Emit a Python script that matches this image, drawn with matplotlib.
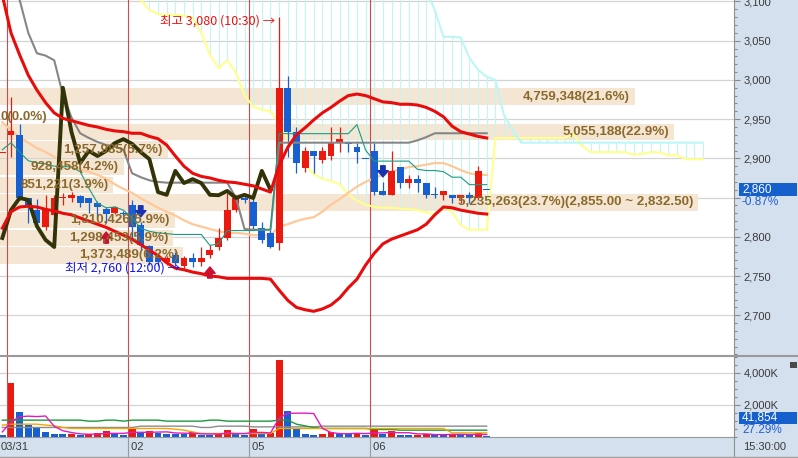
import numpy as np
import matplotlib
matplotlib.use("Agg")
import matplotlib.pyplot as plt
import matplotlib.transforms as mtransforms
from matplotlib.lines import Line2D
from matplotlib.patches import Rectangle
from matplotlib.ticker import FixedLocator, MultipleLocator, FuncFormatter

plt.rcParams['font.family'] = ['Liberation Sans', 'DejaVu Sans']
KR = ['Noto Sans CJK KR', 'DejaVu Sans']

# 30 minute candles, 14 per session (09:00 .. 15:30); bar -1 is the last bar of 03/30
bars = np.arange(-1, 56)
bars_per_day = 14
day_labels = ['03/31', '02', '05', '06']
day_first_bar = [0, 14, 28, 42]

opens = np.array([2907, 2930, 2930, 2849.5, 2834, 2812.5, 2827.5, 2849, 2849.5, 2852,
                  2849.5, 2843, 2835.5, 2830.5, 2830.5, 2840.5, 2815, 2788, 2773, 2768,
                  2776.5, 2762.5, 2773, 2768, 2776.5, 2787, 2798.5, 2834, 2849.5, 2844.5,
                  2811, 2805, 2792, 2990, 2933.5, 2887.5, 2909.5, 2898, 2903, 2919.5,
                  2919.5, 2914.5, 2899.5, 2909.5, 2858.5, 2853.5, 2889, 2868.5, 2873.5, 2868.5,
                  2853.5, 2853, 2853.5, 2849.5, 2853.5, 2849.5, 2860])
highs = np.array([2907, 2978, 2944, 2849.5, 2848, 2853, 2853, 2856, 2857, 2853.5,
                  2849.5, 2845.5, 2838, 2839, 2833, 2847, 2819, 2789.5, 2776.5, 2775.5,
                  2780.5, 2775.5, 2779, 2787, 2789.5, 2811, 2856, 2853.5, 2852, 2849.5,
                  2819, 2808.5, 3080, 3005, 2940, 2914.5, 2909.5, 2914.5, 2940, 2940,
                  2919.5, 2919.5, 2899.5, 2919.5, 2870, 2909.5, 2889, 2878.5, 2878.5, 2868.5,
                  2863.5, 2858.5, 2853.5, 2853.5, 2857, 2890, 2860])
lows = np.array([2907, 2902, 2847, 2817.5, 2815, 2808.5, 2826.5, 2840.5, 2844, 2838,
                 2830.5, 2825, 2817.5, 2829, 2826.5, 2796, 2783, 2764, 2762.5, 2764,
                 2762.5, 2760, 2761.5, 2762.5, 2773, 2783, 2796, 2831.5, 2843, 2810,
                 2792, 2785.5, 2783, 2901.5, 2881, 2882.5, 2881, 2894, 2898, 2908,
                 2908, 2894, 2899, 2853, 2853, 2853, 2862, 2862, 2857, 2849.5,
                 2849.5, 2847, 2843, 2843, 2843, 2847, 2860])
closes = np.array([2907, 2935, 2849.5, 2838, 2817.5, 2834, 2849.5, 2849.5, 2853.5, 2843,
                   2843, 2838, 2829, 2838, 2829, 2812.5, 2789.5, 2768, 2768, 2773,
                   2766.5, 2773, 2768, 2773, 2783, 2798.5, 2834, 2849.5, 2847, 2813.5,
                   2796, 2787, 2990, 2933.5, 2894, 2909.5, 2903, 2909.5, 2919.5, 2924.5,
                   2918.5, 2908, 2899, 2857, 2853.5, 2884, 2868.5, 2873.5, 2868.5, 2853.5,
                   2853, 2858.5, 2849.5, 2853.5, 2849.5, 2884, 2860])
volume_k = np.array([80, 3380, 1550, 710, 540, 270, 150, 140, 150, 110,
                     160, 210, 350, 170, 90, 500, 210, 350, 240, 160,
                     150, 140, 280, 120, 90, 140, 420, 160, 90, 460,
                     160, 250, 4815, 1600, 500, 180, 120, 180, 270, 160,
                     150, 250, 90, 460, 180, 330, 120, 90, 100, 180,
                     120, 90, 170, 120, 100, 190, 41.854])

bb_upper = [3108, 3060, 3032, 3006, 2987, 2971, 2958, 2951, 2948, 2945,
            2942, 2940, 2937, 2935, 2934, 2932, 2932, 2928, 2925, 2917,
            2903, 2890, 2881, 2877, 2875, 2872, 2870, 2869, 2867, 2865,
            2861, 2857, 2891, 2914, 2930, 2939, 2949, 2958, 2965, 2973,
            2980, 2982, 2980, 2976, 2972, 2971, 2969, 2969, 2968, 2965,
            2960, 2953, 2941, 2934, 2931, 2928, 2926]
bb_lower = [2811, 2832, 2838, 2839, 2838, 2835, 2833, 2830, 2828, 2824,
            2820, 2816, 2812, 2807, 2802, 2797, 2790, 2783, 2776, 2767,
            2760, 2758, 2755, 2753, 2750, 2749, 2747, 2747, 2747, 2747,
            2747, 2746, 2732, 2719, 2710, 2707, 2705, 2708, 2713, 2722,
            2735, 2746, 2764, 2779, 2791, 2797, 2801, 2805, 2809, 2816,
            2828, 2838, 2837, 2834, 2832, 2830, 2829]
tenkan = [2911, 2920, 2908, 2897, 2894, 2893, 2890, 2890, 2889, 2883,
          2862, 2843, 2837, 2838, 2834, 2824, 2811, 2807, 2805, 2804,
          2803, 2803, 2803, 2803, 2789, 2791, 2808, 2808, 2808, 2808,
          2809, 2809, 2931.5, 2931.5, 2931.5, 2931.5, 2931.5, 2931.5, 2931.5, 2931.5,
          2931.5, 2943, 2910.5, 2896.5, 2896.5, 2896.5, 2896.5, 2896.5, 2886, 2884.5,
          2884.5, 2883, 2876, 2876, 2866.5, 2866.5, 2866.5]
kijun = [3178, 3140, 3102, 3060, 3034, 3031, 3025, 2981, 2952, 2932,
         2926, 2921, 2917, 2915, 2911, 2881, 2876, 2872, 2870, 2869,
         2869, 2869, 2869, 2869, 2869, 2869, 2869, 2850, 2810, 2809,
         2809, 2809] + [2920] * 16 + [2923, 2927] + [2932] * 7
ma_line = [2946, 2936, 2927, 2920, 2913, 2908, 2902, 2895, 2890, 2886,
           2883, 2879, 2874, 2867, 2861, 2856, 2849, 2843, 2837, 2832,
           2827, 2821, 2816, 2813, 2810, 2807, 2805, 2805, 2804, 2802,
           2802, 2802, 2813, 2816, 2820, 2823, 2825, 2832, 2841, 2848,
           2856, 2864, 2870, 2875, 2879, 2883, 2886, 2889, 2890, 2892,
           2894, 2894, 2890, 2885, 2881, 2879, 2879]

# leading spans, drawn 25 bars ahead (out to bar 80)
span_bars = np.arange(-1, 81)
span_a = [np.nan] * 16 + [
    3102, 3089, 3084, 3083, 3083, 3082, 3079, 3060, 3032, 3015,
    3025, 3009, 2981, 2966, 2962, 2960, 2945, 2925, 2908, 2893,
    2880, 2874, 2871, 2867, 2854, 2846, 2841, 2838, 2837, 2837,
    2836, 2835, 2834, 2831, 2829, 2837, 2832, 2815, 2809, 2809,
    2809, 2926, 2926, 2926, 2926, 2926, 2926, 2926, 2926, 2926,
    2931, 2916, 2908, 2908, 2908, 2908, 2908, 2904.5, 2906, 2908,
    2907.5, 2904, 2904, 2899, 2899, 2899]
span_b = [np.nan] * 16 + [3115] * 34 + [
    3089, 3055, 3055, 3054, 3028, 3013, 3004, 3000, 2955, 2936] + [2920] * 22

vol_ma5 = [290, 920, 1240, 1280, 1252, 1290, 644, 362, 250, 164,
           142, 154, 196, 200, 196, 264, 264, 264, 278, 292,
           222, 208, 194, 170, 156, 154, 210, 186, 180, 254,
           258, 224, 1155, 1457, 1465, 1469, 1443, 516, 250, 182,
           176, 202, 184, 222, 226, 262, 236, 236, 164, 164,
           122, 116, 132, 136, 120, 134, 124]
vol_ma20 = [713] + [776] * 4 + [720, 669, 568] + [505] * 12 + [461, 398, 290] + [189] * 9 + [505] * 20 + [227] * 5
vol_ma60 = ([1029] * 10 + [965] * 2 + [1029] * 2 + [965] + [1029] * 4 + [965] * 5 + [1029] * 2 + [965] * 6
            + [1029] * 2 + [776, 669, 568] + [505] * 6 + [442] * 3 + [398] * 11)
vol_ma120 = [568] * 16 + [650] * 7 + [568] * 2 + [650] * 4 + [606] * 8 + [650] * 20

# volume by price, bins of 22.5
profile_low = [2765, 2787.5, 2810, 2832.5, 2855, 2877.5, 2900, 2922.5, 2945, 2967.5]
profile_vol = [1373489, 1298453, 1310426, 5235263, 851221, 928458, 1257985, 5055188, 0, 4759348]
profile_step = 22.5

buy_signals = [11, 23]
sell_signals = [15, 43]

change_text = '-0.87%'
vol_ratio_text = '27.29%'

RED = '#ea1a10'
BLUE = '#1660d2'
W, H = 798.0, 458.0

fig = plt.figure(figsize=(7.98, 4.58), dpi=100, facecolor='#d5e0ee')
ax = fig.add_axes([0, 103 / H, 734 / W, 355 / H])
axv = fig.add_axes([0, 21.5 / H, 734 / W, 79.5 / H], sharex=ax)

# ---- price panel
ax.set_xlim(-1.27, 83.59)
ymin, ymax = 2649.3, 3101.9
ax.set_ylim(ymin, ymax)

for b in day_first_bar:
    ax.axvline(b - 0.5, color='#cf4a4a', lw=0.8, zorder=1.8)
    axv.axvline(b - 0.5, color='#cf4a4a', lw=0.8, zorder=1.8)

# volume profile bands, drawn in axes-fraction x
blend = mtransforms.blended_transform_factory(ax.transAxes, ax.transData)
prof_vol = np.array(profile_vol)
prof_max = prof_vol.max() / 0.951
total = prof_vol.sum()
for lo, v in zip(profile_low, prof_vol):
    ax.add_patch(Rectangle((0, lo + 0.8), v / prof_max, profile_step - 1.6, transform=blend,
                           facecolor='#f5e6d3', edgecolor='none', zorder=1))
    label = f'{v:,}({v / total * 100:.1f}%)'
    if v == prof_vol.max():
        label += f'({lo + profile_step:,.2f} ~ {lo:,.2f})'
    if v > 0:
        ax.annotate(label, xy=(v / prof_max, lo + profile_step / 2), xycoords=blend,
                    xytext=(-3.6, 0), textcoords='offset points', ha='right', va='center',
                    fontsize=9.6, fontweight='bold', color='#8a6a2c', zorder=10)
    else:
        ax.annotate(label, xy=(0, lo + profile_step / 2), xycoords=blend,
                    xytext=(0.5, -2), textcoords='offset points', ha='left', va='center',
                    fontsize=9.6, fontweight='bold', color='#8a6a2c', zorder=10)

# cloud hatch + spans
sa = np.array(span_a, dtype=float)
sb = np.array(span_b, dtype=float)
ok = ~np.isnan(sa) & ~np.isnan(sb)
ax.vlines(span_bars[ok], np.minimum(sa, sb)[ok], np.maximum(sa, sb)[ok],
          colors='#c4f4f4', lw=0.8, zorder=1.3)
ax.plot(span_bars, sa, color='#ffff8c', lw=1.5, zorder=2)
ax.plot(span_bars, sb, color='#bdf6f6', lw=1.5, zorder=2)
ax.plot(bars, ma_line, color='#ffc898', lw=1.6, zorder=2.5)

# candles
prev = np.r_[closes[0], closes[:-1]]
up = (closes > opens) | ((closes == opens) & (closes >= prev))
ccol = np.where(up, RED, BLUE)
ax.vlines(bars, lows, highs, colors=ccol, lw=0.9, zorder=3)
ax.bar(bars, np.maximum(np.abs(closes - opens), 1.5), bottom=np.minimum(opens, closes),
       width=0.8, color=ccol, lw=0, zorder=3.2)

ax.plot(bars, kijun, color='#868686', lw=1.5, zorder=4)
ax.plot(bars, tenkan, color='#1b9c84', lw=0.8, zorder=4)
ax.plot(bars[25:] - 25, closes[25:], color='#333308', lw=2.8, zorder=4.2)
ax.plot(bars, bb_upper, color='#e80c0c', lw=2.2, zorder=4.5)
ax.plot(bars, bb_lower, color='#e80c0c', lw=2.2, zorder=4.5)

# signal arrows
arrow_style = 'simple,head_length=0.45,head_width=0.75,tail_width=0.32'
for b in sell_signals:
    tip = mtransforms.offset_copy(ax.transData, fig=fig, x=0, y=5, units='dots')
    ax.annotate('', xy=(b, highs[b + 1]), xycoords=tip, xytext=(0, 8), textcoords='offset points',
                arrowprops=dict(arrowstyle=arrow_style, fc='#1832b0', ec='#1832b0',
                                shrinkA=0, shrinkB=0), zorder=6)
for b in buy_signals:
    tip = mtransforms.offset_copy(ax.transData, fig=fig, x=0, y=-9, units='dots')
    ax.annotate('', xy=(b, lows[b + 1]), xycoords=tip, xytext=(0, -8), textcoords='offset points',
                arrowprops=dict(arrowstyle=arrow_style, fc='#cc1030', ec='#cc1030',
                                shrinkA=0, shrinkB=0), zorder=6)


def bar_time(b):
    m = 9 * 60 + 30 * (b % bars_per_day)
    return f'{m // 60:02d}:{m % 60:02d}'


hi_j = int(np.argmax(highs))
lo_j = int(np.argmin(lows))
ax.annotate(f'최고 {highs[hi_j]:,.0f} ({bar_time(bars[hi_j])}) →', xy=(bars[hi_j], highs[hi_j]),
            xytext=(-3, -2.5), textcoords='offset points', ha='right', va='center',
            fontsize=9, color='#f01010', family=KR, zorder=10)
ax.annotate(f'최저 {lows[lo_j]:,.0f} ({bar_time(bars[lo_j])}) →', xy=(bars[lo_j], lows[lo_j]),
            xytext=(-3, 0), textcoords='offset points', ha='right', va='center',
            fontsize=9, color='#1414e6', family=KR, zorder=10)

ax.yaxis.set_major_locator(FixedLocator(np.arange(2700, 3101, 50)))
ax.yaxis.set_minor_locator(MultipleLocator(10))
ax.yaxis.set_major_formatter(FuncFormatter(lambda v, _: '' if v == 2850 else f'{v:,.0f}'))
ax.grid(axis='y', which='major', color='#d4d4d4', lw=0.9)
ax.set_axisbelow(True)

for a in (ax, axv):
    a.set_facecolor('white')
    a.yaxis.tick_right()
    a.tick_params(axis='y', which='major', length=4, width=0.8, color='#8a8a8a', pad=3,
                  labelsize=8, labelcolor='#3a3a3a')
    a.tick_params(axis='y', which='minor', length=2, width=0.8, color='#8a8a8a')
    a.tick_params(axis='x', bottom=False, labelbottom=False)
    for s in ('top', 'left', 'bottom'):
        a.spines[s].set_visible(False)
    a.spines['right'].set_color('#8f8f8f')
axv.spines['bottom'].set_visible(True)
axv.spines['bottom'].set_color('#9a9a9a')

# ---- volume panel
vup = np.r_[False, volume_k[1:] > volume_k[:-1]]
axv.bar(bars, volume_k, width=0.8, color=np.where(vup, RED, BLUE), lw=0, zorder=2)
axv.plot(bars, vol_ma120, color='#8c8c8c', lw=1.0, zorder=3)
axv.plot(bars, vol_ma60, color='#1b9a3c', lw=1.0, zorder=3)
axv.plot(bars, vol_ma20, color='#f0a800', lw=1.0, zorder=3)
axv.plot(bars, vol_ma5, color='#e01cbf', lw=1.0, zorder=3)
axv.set_ylim(0, 5000)
axv.yaxis.set_major_locator(FixedLocator([2000, 4000]))
axv.yaxis.set_minor_locator(MultipleLocator(500))
axv.yaxis.set_major_formatter(FuncFormatter(lambda v, _: f'{v:,.0f}K'))
axv.grid(axis='y', which='major', color='#d4d4d4', lw=0.9)
axv.set_axisbelow(True)

# date strip
dblend = mtransforms.blended_transform_factory(axv.transData, axv.transAxes)
for k, (lab, b) in enumerate(zip(day_labels, day_first_bar)):
    if k == 0:
        axv.text(0.0015, -0.135, lab, transform=axv.transAxes, ha='left', va='center',
                 fontsize=8, color='#3a3a3a')
    else:
        axv.text(b - 0.5, -0.135, ' ' + lab, transform=dblend, ha='left', va='center',
                 fontsize=8, color='#3a3a3a')
        axv.add_line(Line2D([b - 0.5, b - 0.5], [0, -19.5 / 79.5], transform=dblend,
                            color='#9a9a9a', lw=0.8, clip_on=False))

fig.add_artist(Line2D([0, 1], [1 - 356 / H] * 2, color='#9a9a9a', lw=1.5))
fig.add_artist(Line2D([734 / W] * 2, [1 - 437 / H, 1 - 456 / H], color='#8f8f8f', lw=0.8))
fig.add_artist(Line2D([0, 1], [1 - 456.5 / H] * 2, color='#a0a0a0', lw=1.0))
fig.text(743 / W, 1 - 447 / H, '15:30:00', ha='left', va='center', fontsize=8, color='#3a3a3a')

# last price box
px_price = (ymax - ymin) / 355.0
pblend = mtransforms.blended_transform_factory(fig.transFigure, ax.transData)
last = closes[-1]
ax.add_patch(Rectangle((739 / W, last - 6.5 * px_price), 58 / W, 13 * px_price, transform=pblend,
                       facecolor='#1560cc', edgecolor='none', clip_on=False, zorder=20))
ax.text(742 / W, last, f'{last:,.0f}', transform=pblend, ha='left', va='center',
        fontsize=8.5, color='white', clip_on=False, zorder=21)
ax.text(742 / W, last - 12.5 * px_price, change_text, transform=pblend, ha='left', va='center',
        fontsize=8.5, color='#1f5fd6', clip_on=False, zorder=21)

# last volume box
vblend = mtransforms.blended_transform_factory(fig.transFigure, axv.transAxes)
axv.add_patch(Rectangle((739 / W, 0.157), 58 / W, 0.151, transform=vblend,
                        facecolor='#1560cc', edgecolor='none', clip_on=False, zorder=20))
axv.text(742 / W, 0.233, f'{volume_k[-1] * 1000:,.0f}', transform=vblend, ha='left', va='center',
         fontsize=8.5, color='white', clip_on=False, zorder=21)
axv.text(742 / W, 0.085, vol_ratio_text, transform=vblend, ha='left', va='center',
         fontsize=8.5, color='#1f5fd6', clip_on=False, zorder=21)
fig.add_artist(Rectangle((790 / W, 1 - 368 / H), 7 / W, 6 / H, transform=fig.transFigure,
                         facecolor='#4a4a4a', edgecolor='none'))

fig.savefig('out.png', dpi=100, facecolor=fig.get_facecolor())
